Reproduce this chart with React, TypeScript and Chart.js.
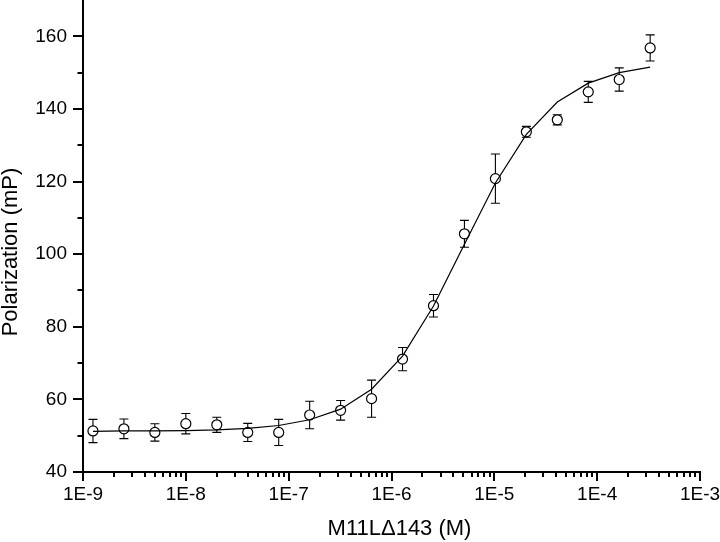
import { useEffect, useRef } from 'react';
import { Chart, registerables } from 'chart.js';

Chart.register(...registerables);

const FONT = '"Liberation Sans", Arial, Helvetica, sans-serif';

// Concentration of M11LΔ143 (M)
const concentrations = [
  1.25e-9, 2.5e-9, 5e-9, 1e-8, 2e-8, 4e-8, 8e-8, 1.6e-7, 3.2e-7, 6.4e-7,
  1.28e-6, 2.56e-6, 5.12e-6, 1.024e-5, 2.048e-5, 4.096e-5, 8.192e-5, 1.6384e-4, 3.2768e-4,
];
// Measured polarization (mP)
const polarization = [
  51.3, 51.9, 50.9, 53.3, 53.0, 50.9, 50.9, 55.7, 57.0, 60.2,
  71.1, 85.8, 105.6, 120.8, 133.7, 137.0, 144.7, 148.1, 156.8,
];
// Error bars (± mP)
const errors = [
  3.2, 2.7, 2.4, 2.8, 2.1, 2.5, 3.6, 3.8, 2.7, 5.1,
  3.2, 3.1, 3.7, 6.8, 1.5, 1.4, 2.9, 3.2, 3.6,
];
// Fitted curve (mP)
const fitValues = [
  51.2, 51.3, 51.3, 51.4, 51.6, 52.0, 52.8, 54.4, 57.3, 62.8,
  71.9, 85.7, 102.7, 119.6, 133.0, 141.9, 147.1, 150.0, 151.5,
];

const xMajorTicks = [1e-9, 1e-8, 1e-7, 1e-6, 1e-5, 1e-4, 1e-3];
const yMajorTicks = [40, 60, 80, 100, 120, 140, 160];
const yMinorTicks = [50, 70, 90, 110, 130, 150];

const xTitle = 'M11LΔ143 (M)';
const yTitle = 'Polarization (mP)';

const extras = {
  id: 'extras',
  beforeDatasetsDraw(chart: any) {
    const { ctx } = chart;
    const xs = chart.scales.x;
    const ys = chart.scales.y;
    ctx.save();
    ctx.strokeStyle = '#000';
    ctx.lineWidth = 1.1;
    const cap = 4.5;
    concentrations.forEach((c, i) => {
      const px = xs.getPixelForValue(c);
      const top = ys.getPixelForValue(polarization[i] + errors[i]);
      const bot = ys.getPixelForValue(polarization[i] - errors[i]);
      ctx.beginPath();
      ctx.moveTo(px, top);
      ctx.lineTo(px, bot);
      ctx.moveTo(px - cap, top);
      ctx.lineTo(px + cap, top);
      ctx.moveTo(px - cap, bot);
      ctx.lineTo(px + cap, bot);
      ctx.stroke();
    });
    ctx.restore();
  },
  afterDraw(chart: any) {
    const { ctx, chartArea } = chart;
    const xs = chart.scales.x;
    const ys = chart.scales.y;
    ctx.save();
    ctx.strokeStyle = '#000';
    ctx.lineWidth = 2;
    // y minor ticks
    yMinorTicks.forEach((v) => {
      const py = Math.round(ys.getPixelForValue(v));
      ctx.beginPath();
      ctx.moveTo(chartArea.left - 5.5, py);
      ctx.lineTo(chartArea.left, py);
      ctx.stroke();
    });
    // x minor ticks (2..9 within each decade)
    for (let d = 0; d < xMajorTicks.length - 1; d++) {
      for (let m = 2; m <= 9; m++) {
        const px = Math.round(xs.getPixelForValue(xMajorTicks[d] * m));
        ctx.beginPath();
        ctx.moveTo(px, chartArea.bottom);
        ctx.lineTo(px, chartArea.bottom + 5);
        ctx.stroke();
      }
    }
    // axis titles
    ctx.fillStyle = '#000';
    ctx.font = `22px ${FONT}`;
    ctx.textAlign = 'center';
    ctx.textBaseline = 'middle';
    ctx.fillText(xTitle, (chartArea.left + chartArea.right) / 2 + 8, chartArea.bottom + 57);
    ctx.translate(11, (chartArea.top + chartArea.bottom) / 2 + 16);
    ctx.rotate(-Math.PI / 2);
    ctx.fillText(yTitle, 0, 0);
    ctx.restore();
  },
};

export default function App() {
  const ref = useRef<HTMLCanvasElement>(null);
  useEffect(() => {
    const chart = new Chart(ref.current as HTMLCanvasElement, {
      type: 'scatter',
      data: {
        datasets: [
          {
            type: 'line',
            data: concentrations.map((x, i) => ({ x, y: fitValues[i] })),
            borderColor: '#000',
            borderWidth: 1.2,
            pointRadius: 0,
            tension: 0,
            fill: false,
            order: 0,
          } as any,
          {
            type: 'scatter',
            data: concentrations.map((x, i) => ({ x, y: polarization[i] })),
            pointRadius: 5,
            pointHoverRadius: 5,
            pointBackgroundColor: '#fff',
            pointBorderColor: '#000',
            pointBorderWidth: 1.2,
            order: 1,
          } as any,
        ],
      },
      options: {
        responsive: false,
        maintainAspectRatio: false,
        animation: false,
        layout: { autoPadding: false, padding: { left: 0, right: 20, top: 0, bottom: 0 } },
        plugins: { legend: { display: false }, tooltip: { enabled: false } },
        scales: {
          x: {
            type: 'logarithmic',
            position: 'bottom',
            min: 1e-9,
            max: 1e-3,
            afterBuildTicks: (s: any) => {
              s.ticks = xMajorTicks.map((v) => ({ value: v }));
            },
            afterFit: (s: any) => {
              s.height = 70;
              s.paddingLeft = 0;
              s.paddingRight = 0;
            },
            ticks: {
              autoSkip: false,
              maxRotation: 0,
              padding: 2,
              color: '#000',
              font: { family: FONT, size: 19 },
              callback: (v: any) => '1E' + Math.round(Math.log10(Number(v))),
            },
            grid: {
              display: true,
              drawOnChartArea: false,
              drawTicks: true,
              tickLength: 9,
              tickWidth: 2,
              tickColor: '#000',
              color: '#000',
              lineWidth: 2,
            },
            border: { display: true, color: '#000', width: 2 },
          } as any,
          y: {
            type: 'linear',
            position: 'left',
            min: 40,
            max: 170,
            afterBuildTicks: (s: any) => {
              s.ticks = yMajorTicks.map((v) => ({ value: v }));
            },
            afterFit: (s: any) => {
              s.width = 83;
              s.paddingTop = 0;
              s.paddingBottom = 0;
            },
            ticks: {
              padding: 6,
              color: '#000',
              font: { family: FONT, size: 19 },
              callback: (v: any) => String(v),
            },
            grid: {
              display: true,
              drawOnChartArea: false,
              drawTicks: true,
              tickLength: 10,
              tickWidth: 2,
              tickColor: '#000',
              color: '#000',
              lineWidth: 2,
            },
            border: { display: true, color: '#000', width: 2 },
          } as any,
        },
      },
      plugins: [extras],
    });
    return () => chart.destroy();
  }, []);
  return (
    <div style={{ position: 'absolute', left: 0, top: 0, width: 720, height: 542, background: '#fff' }}>
      <canvas ref={ref} width={720} height={542} style={{ display: 'block', width: 720, height: 542 }} />
    </div>
  );
}
